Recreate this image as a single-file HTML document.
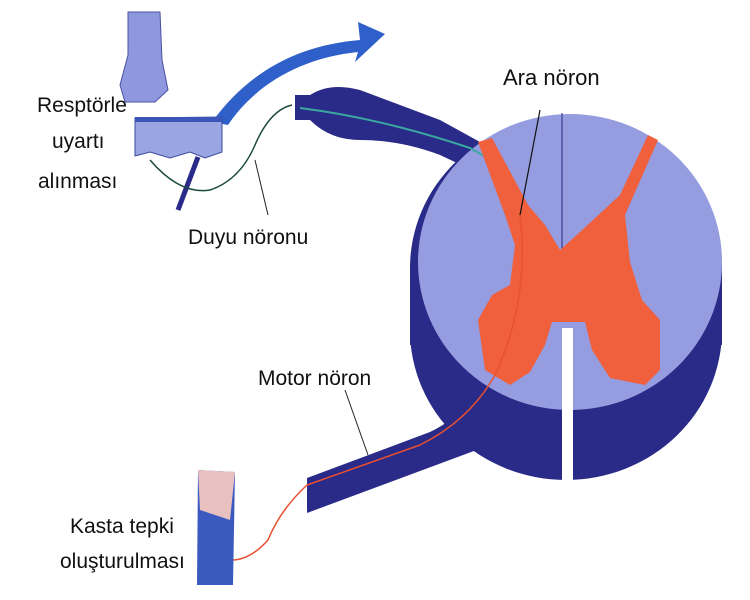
<!DOCTYPE html>
<html><head><meta charset="utf-8"><style>
html,body{margin:0;padding:0;background:#fff;width:750px;height:600px;overflow:hidden}
text{font-family:"Liberation Sans",sans-serif;font-size:21px;fill:#111}
</style></head><body>
<svg width="750" height="600" viewBox="0 0 750 600" xmlns="http://www.w3.org/2000/svg">
<!-- big arrow -->
<path d="M212,122 C250,70 300,45 360,40 L358,22 L385,34 L355,62 L358,52 C300,58 255,85 228,125 Z" fill="#2f5fc8"/>
<!-- foot -->
<path d="M128,12 L160,12 L162,60 L168,90 L155,102 L125,102 L120,85 L128,55 Z" fill="#8f98de" stroke="#4a52a0" stroke-width="1"/>
<!-- skin -->
<path d="M135,118 L222,117 L222,152 L205,158 L190,152 L170,158 L150,152 L135,156 Z" fill="#9aa6e2" stroke="#3a4aa0"/>
<rect x="135" y="117" width="87" height="5" fill="#3a56b8"/>
<path d="M198,157 L178,210" stroke="#2a2a8a" stroke-width="5"/>
<path d="M150,160 Q180,195 210,190 Q240,180 255,145 Q270,110 292,105" stroke="#1a4a3a" stroke-width="1.5" fill="none"/>
<!-- dorsal root -->
<path d="M295,95 L310,95 Q330,82 360,90 Q400,105 440,120 L480,142 L472,170 L440,155 Q400,140 360,140 Q330,140 310,120 L295,120 Z" fill="#2a2a88"/>
<!-- cord dark side -->
<ellipse cx="566" cy="330" rx="156" ry="150" fill="#2a2a88"/>
<ellipse cx="566" cy="268" rx="156" ry="150" fill="#2a2a88"/>
<rect x="410" y="265" width="312" height="80" fill="#2a2a88"/>
<!-- cord face -->
<ellipse cx="570" cy="262" rx="152" ry="148" fill="#959ce0"/>
<line x1="562" y1="113" x2="562" y2="250" stroke="#2a2a88" stroke-width="1"/>
<path d="M300,108 Q380,118 470,148 L500,165 L520,208" stroke="#3aa8a0" stroke-width="2" fill="none"/>
<!-- slit -->
<rect x="562" y="328" width="11" height="155" fill="#fff"/>
<!-- gray matter -->
<path d="M478,142 L492,138 L528,205 L545,225 L560,250 L580,232 L620,195 L648,135 L658,140 L625,215 L630,262 L642,300 L660,320 L660,370 L645,385 L610,378 L592,350 L585,322 L552,322 L545,345 L530,372 L510,385 L485,370 L478,320 L492,295 L510,285 L515,245 L505,215 Z" fill="#f0603c"/>
<!-- motor root -->
<path d="M307,478 L430,432 Q455,420 470,400 L490,445 L307,513 Z" fill="#2a2a88"/>
<path d="M520,215 Q530,300 495,375 Q470,420 420,445 L307,485 Q280,510 268,540 Q250,560 232,560" stroke="#e85030" stroke-width="1.5" fill="none"/>
<path d="M540,110 L520,215" stroke="#111" stroke-width="1.2"/>
<!-- muscle -->
<path d="M198,470 L235,472 L233,585 L197,585 Z" fill="#3a5ac0"/>
<path d="M198,470 L235,472 L230,520 L200,510 Z" fill="#e8c0c0"/>
<!-- leaders -->
<line x1="255" y1="160" x2="268" y2="215" stroke="#222" stroke-width="1"/>
<line x1="345" y1="390" x2="368" y2="455" stroke="#222" stroke-width="1"/>
<!-- labels -->
<text x="37" y="112">Resptörle</text>
<text x="52" y="148">uyartı</text>
<text x="38" y="188">alınması</text>
<text x="188" y="244">Duyu nöronu</text>
<text x="503" y="85" style="font-size:22px">Ara nöron</text>
<text x="258" y="385">Motor nöron</text>
<text x="70" y="533">Kasta tepki</text>
<text x="60" y="568">oluşturulması</text>
</svg>
</body></html>
